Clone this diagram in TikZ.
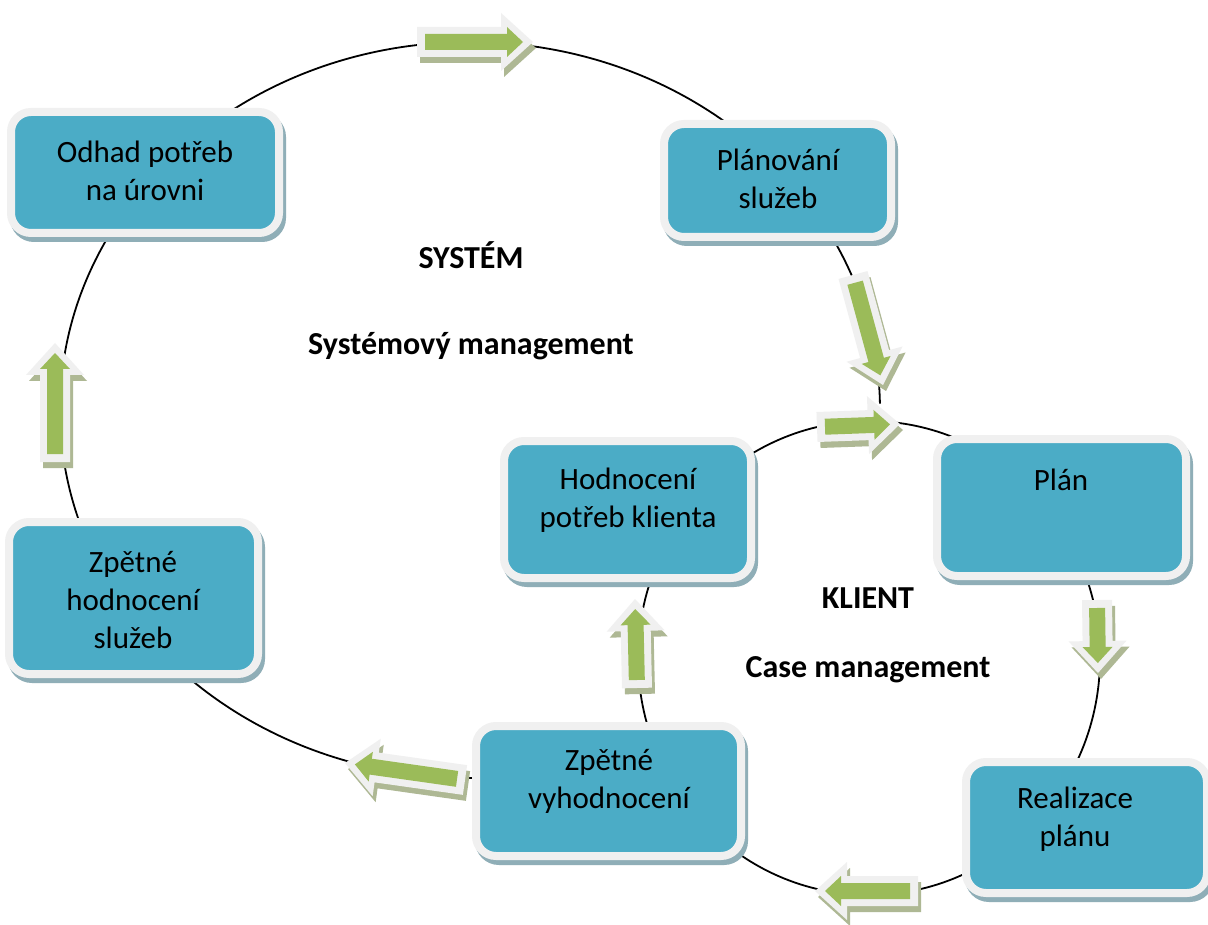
\documentclass[tikz,border=0pt]{standalone}
\usepackage{fontspec}
\setmainfont{Carlito}
\usetikzlibrary{shadows,calc}
\definecolor{boxteal}{HTML}{4BACC6}
\definecolor{framegray}{HTML}{F0F0F0}
\definecolor{boxshadow}{HTML}{8FAEB7}
\definecolor{agreen}{HTML}{9BBB59}
\definecolor{ashadow}{HTML}{AEB894}
\tikzset{
  box/.style={draw=framegray, line width=8pt, fill=boxteal, rounded corners=20pt, inner sep=0pt,
    general shadow={shadow xshift=3pt, shadow yshift=-5pt, fill=boxshadow, draw=boxshadow, line width=8pt}},
  lbl/.style={font=\fontsize{31}{38}\selectfont, align=center, inner sep=0pt},
  ttl/.style={font=\bfseries\fontsize{32}{38}\selectfont, inner sep=0pt},
  circ/.style={draw=black, line width=1.8pt},
}
\newcommand\mybox[5]{\node[box, minimum width={#4-#2-8}, minimum height={#5-#3-8}] (#1) at ({(#2+#4)/2},{(#3+#5)/2}) {};}
\newcommand\barrow[4]{%
  \pgfmathsetmacro\arang{atan2(-(#4-#2),#3-#1)}%
  \pgfmathsetmacro\arlen{veclen(#3-#1,#4-#2)}%
  \begin{scope}[shift={(#1+3,#2+6)}, rotate=\arang]
    \fill[ashadow] (0,-15) -- (\arlen-32,-15) -- (\arlen-32,-29) -- (\arlen,0) -- (\arlen-32,29) -- (\arlen-32,15) -- (0,15) -- cycle;
  \end{scope}
  \begin{scope}[shift={(#1,#2)}, rotate=\arang]
    \fill[framegray] (0,-15) -- (\arlen-32,-15) -- (\arlen-32,-29) -- (\arlen,0) -- (\arlen-32,29) -- (\arlen-32,15) -- (0,15) -- cycle;
    \fill[agreen] (8,-8) -- (\arlen-26,-8) -- (\arlen-26,-15) -- (\arlen-10,0) -- (\arlen-26,15) -- (\arlen-26,8) -- (8,8) -- cycle;
  \end{scope}}
\begin{document}
\begin{tikzpicture}[x=1pt,y=-1pt]
\useasboundingbox[fill=white] (0,0) rectangle (1208,925);
% cycles
\coordinate (bigc) at (470,410);
\draw[circ] ($(bigc)+({410*cos(-1)},{368*sin(-1)})$) arc[start angle=-1, end angle=-272, x radius=410, y radius=368];
\coordinate (smallc) at (869,658);
\draw[circ] (smallc) ellipse [x radius=231, y radius=237];
% boxes
\mybox{odhad}{7}{108}{283}{237}
\mybox{planovani}{660}{120}{895}{241}
\mybox{plan}{933}{435}{1190}{580}
\mybox{hodnoceni}{500}{437}{755}{582}
\mybox{zpetnehod}{5}{518}{262}{678}
\mybox{zpetnevyh}{472}{722}{745}{860}
\mybox{realizace}{962}{758}{1211}{897}
% box texts
\node[lbl] (t1) at (145,171) {Odhad potřeb\\na úrovni};
\node[lbl] (t2) at (778,179) {Plánování\\služeb};
\node[lbl] (t3) at (1061,480) {Plán};
\node[lbl] (t4) at (628,500) {Hodnocení\\potřeb klienta};
\node[lbl] (t5) at (133,600) {Zpětné\\hodnocení\\služeb};
\node[lbl] (t6) at (609,781) {Zpětné\\vyhodnocení};
\node[lbl] (t7) at (1075,819) {Realizace\\plánu};
% titles
\node[ttl] (s1) at (471,255) {SYSTÉM};
\node[ttl] (s2) at (471,346) {Systémový management};
\node[ttl] (k1) at (868,598) {KLIENT};
\node[ttl] (k2) at (868,670) {Case management};
% block arrows
\barrow{417}{42}{533}{42}
\barrow{853}{275}{883}{385}
\barrow{817}{427}{900}{424}
\barrow{55}{462}{55}{343}
\barrow{637}{688}{635}{599}
\barrow{1097}{600}{1098}{673}
\barrow{918}{891}{815}{891}
\barrow{465}{780}{345}{763}
\end{tikzpicture}
\end{document}
